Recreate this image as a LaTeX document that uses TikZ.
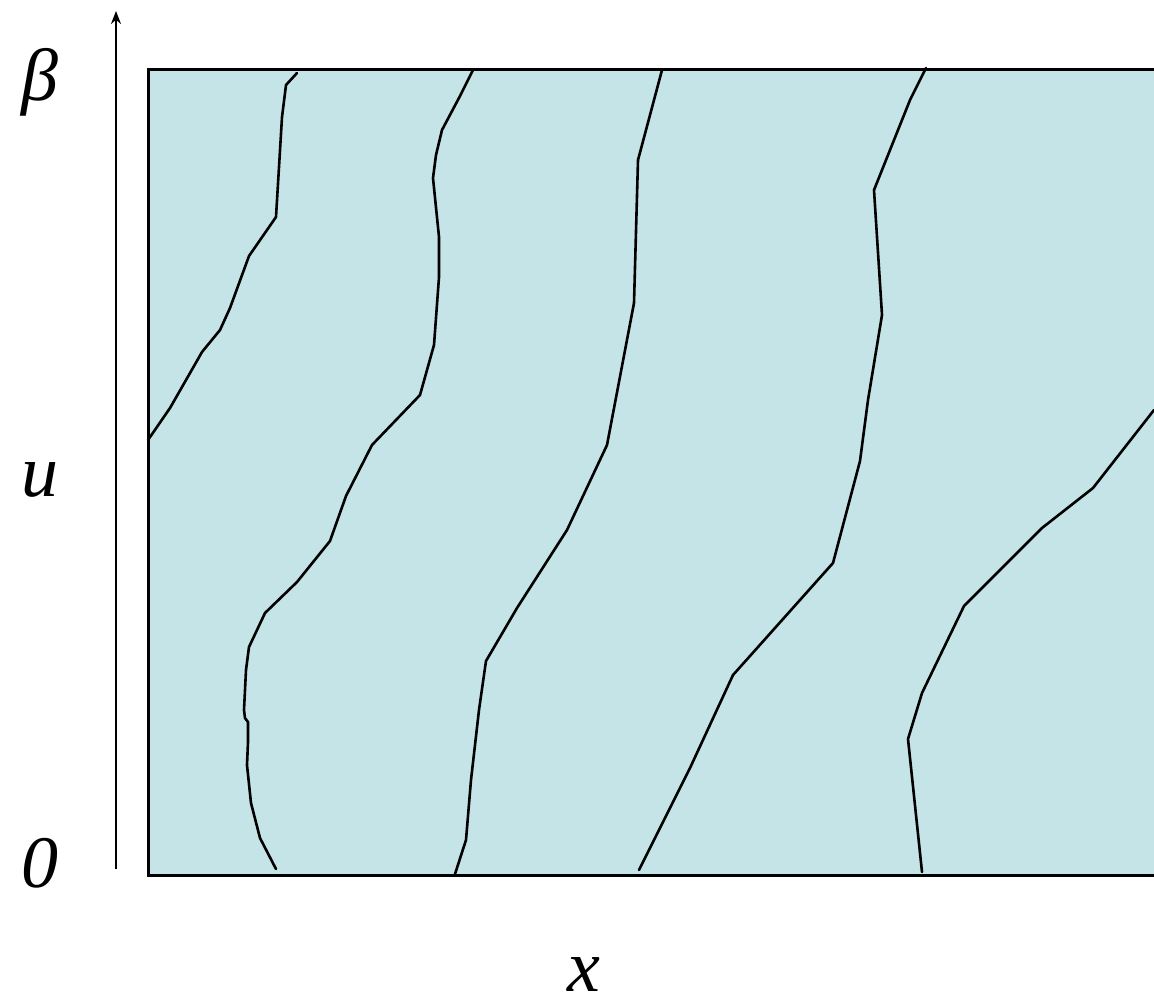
\documentclass[tikz,border=0pt]{standalone}
\usepackage{fontspec}
\setmainfont{Liberation Serif}
\usetikzlibrary{arrows.meta}
\definecolor{bandfill}{HTML}{C5E4E7}
\tikzset{
  worldline/.style={line width=2.6pt, line join=round, line cap=round},
  frameline/.style={line width=3pt},
  axisline/.style={line width=2.2pt, -{Stealth[length=13pt,width=10pt]}},
  biglabel/.style={font=\fontsize{74}{80}\selectfont\itshape, inner sep=0pt, anchor=base}
}
\begin{document}
\begin{tikzpicture}[x=1pt,y=-1pt]
\useasboundingbox (0,0) rectangle (1154,997);
\fill[bandfill] (148,69) rectangle (1154,875);
% curves
\draw[worldline] (297,73) -- (286,85) -- (282,117) -- (276,217) -- (249,256) -- (230,308) -- (220,330) -- (202,352) -- (170,408) -- (148,440);
\draw[worldline] (473,70) -- (460,96) -- (442,130) -- (436,155) -- (433,178) -- (439,237) -- (439,277) -- (434,345) -- (420,395) -- (372,445) -- (346,496) -- (330,541) -- (297,582) -- (265,613) -- (249,647) -- (246,670) -- (244,710) -- (245,718) -- (248,722) -- (248,742) -- (247,765) -- (251,803) -- (260,838) -- (276,869);
\draw[worldline] (662,70) -- (638,160) -- (634,303) -- (607,445) -- (567,530) -- (517,608) -- (486,661) -- (479,710) -- (471,780) -- (466,840) -- (455,874);
\draw[worldline] (926,68) -- (910,100) -- (874,190) -- (882,315) -- (868,400) -- (860,461) -- (833,563) -- (733,675) -- (690,768) -- (639,870);
\draw[worldline] (1154,410) -- (1093,488) -- (1042,528) -- (964,606) -- (922,693) -- (908,739) -- (922,872);
% frame
\draw[frameline] (1156,69) -- (148,69) -- (148,875) -- (1156,875);
% axis
\coordinate (axbot) at (116,869);
\coordinate (axtop) at (116,11);
\draw[axisline] (axbot) -- (axtop);
% labels
\node[biglabel] (beta) at (40,100) {β};
\node[biglabel] (ulab) at (40,496) {u};
\node[biglabel] (zero) at (40,887) {0};
\node[biglabel] (xlab) at (584,991) {x};
\end{tikzpicture}
\end{document}
